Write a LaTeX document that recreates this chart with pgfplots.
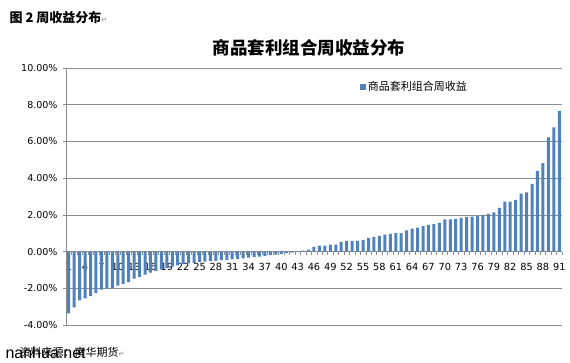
\documentclass[border=0pt]{standalone}
\usepackage{fontspec}
\usepackage{pgfplots}
\usepackage{pgfplotstable}
\pgfplotsset{compat=1.18}
\usetikzlibrary{calc}
\setmainfont{DejaVu Sans}
\newfontfamily\cjk{Noto Sans CJK SC}
\newfontfamily\arial{Liberation Sans}
\newfontfamily\dejavu{DejaVu Sans}
\definecolor{barblue}{HTML}{4F81BD}
\definecolor{gridgray}{HTML}{8C8C8C}

\pgfplotstableread{
x y
1 -3.37
2 -3.04
3 -2.66
4 -2.55
5 -2.43
6 -2.25
7 -2.07
8 -2.00
9 -1.98
10 -1.85
11 -1.76
12 -1.66
13 -1.47
14 -1.38
15 -1.25
16 -1.14
17 -1.05
18 -0.98
19 -0.90
20 -0.82
21 -0.75
22 -0.68
23 -0.64
24 -0.61
25 -0.58
26 -0.55
27 -0.52
28 -0.50
29 -0.47
30 -0.45
31 -0.42
32 -0.40
33 -0.37
34 -0.33
35 -0.30
36 -0.27
37 -0.24
38 -0.20
39 -0.16
40 -0.12
41 -0.09
42 -0.06
43 -0.03
44 0.05
45 0.10
46 0.25
47 0.33
48 0.33
49 0.38
50 0.38
51 0.53
52 0.58
53 0.58
54 0.58
55 0.63
56 0.74
57 0.80
58 0.86
59 0.92
60 0.97
61 1.01
62 1.01
63 1.15
64 1.25
65 1.31
66 1.38
67 1.46
68 1.49
69 1.56
70 1.75
71 1.75
72 1.78
73 1.84
74 1.89
75 1.91
76 1.93
77 1.98
78 2.05
79 2.14
80 2.38
81 2.72
82 2.72
83 2.82
84 3.15
85 3.22
86 3.69
87 4.40
88 4.82
89 6.22
90 6.76
91 7.67
}\datatable

\begin{document}
\begin{tikzpicture}[x=1pt,y=1pt]
\begin{axis}[
  scale only axis, width=496pt, height=257pt,
  xmin=0.5, xmax=91.5, ymin=-4, ymax=10,
  axis y line*=left, axis x line*=middle,
  axis line style={gridgray, line width=0.6pt},
  tick align=outside,
  ytick={-4,-2,...,10},
  xtick={1,4,...,91},
  minor xtick={0.5,1.5,...,91.5},
  major x tick style={draw=none},
  minor x tick style={gridgray, line width=0.4pt},
  minor tick length=3pt,
  major tick length=3pt,
  ytick style={gridgray, line width=0.6pt},
  ymajorgrids, grid style={gridgray, line width=0.6pt},
  yticklabel={\pgfmathprintnumber[fixed,fixed zerofill,precision=2,assume math mode=true]{\tick}\%},
  xticklabel={\pgfmathprintnumber[assume math mode=true]{\tick}},
  yticklabel style={font=\fontsize{9.5}{11}\selectfont, black, xshift=-2pt},
  xticklabel style={font=\fontsize{9.8}{11}\selectfont, black, yshift=-5pt},
  legend style={at={(0.592,0.926)}, anchor=west, draw=none, fill=none,
    font=\cjk\fontsize{11}{13}\selectfont, inner sep=0pt},
  legend image code/.code={\fill[barblue] (0pt,-3pt) rectangle (6pt,3pt);},
  clip=false,
]
\addplot[ybar, bar width=3pt, fill=barblue, draw=none, bar shift=0pt] table[x=x,y=y] {\datatable};
\addlegendentry{商品套利组合周收益}
\coordinate (o) at (rel axis cs:0,0);
\end{axis}
\pgfresetboundingbox
\coordinate (P) at ($(o)+(-66,-37)$);
\path[use as bounding box] (P) rectangle ++(570,362);
\begin{scope}[shift={(P)}]
\node[anchor=west, font=\cjk\bfseries\fontsize{13}{15}\selectfont] at (6,344) {图 2 周收益分布{\dejavu\mdseries\color{gray}\fontsize{7}{8}\selectfont ↵}};
\node[font=\cjk\bfseries\fontsize{17.5}{20}\selectfont] at (309,314) {商品套利组合周收益分布};
\node[anchor=west, font=\cjk\fontsize{11}{13}\selectfont] at (16,10) {资料来源：南华期货{\dejavu\color{gray}\fontsize{7}{8}\selectfont ↵}};
\node[anchor=west, font=\arial\fontsize{16}{18}\selectfont] at (2,9) {nanhua.net};
\end{scope}
\end{tikzpicture}
\end{document}
